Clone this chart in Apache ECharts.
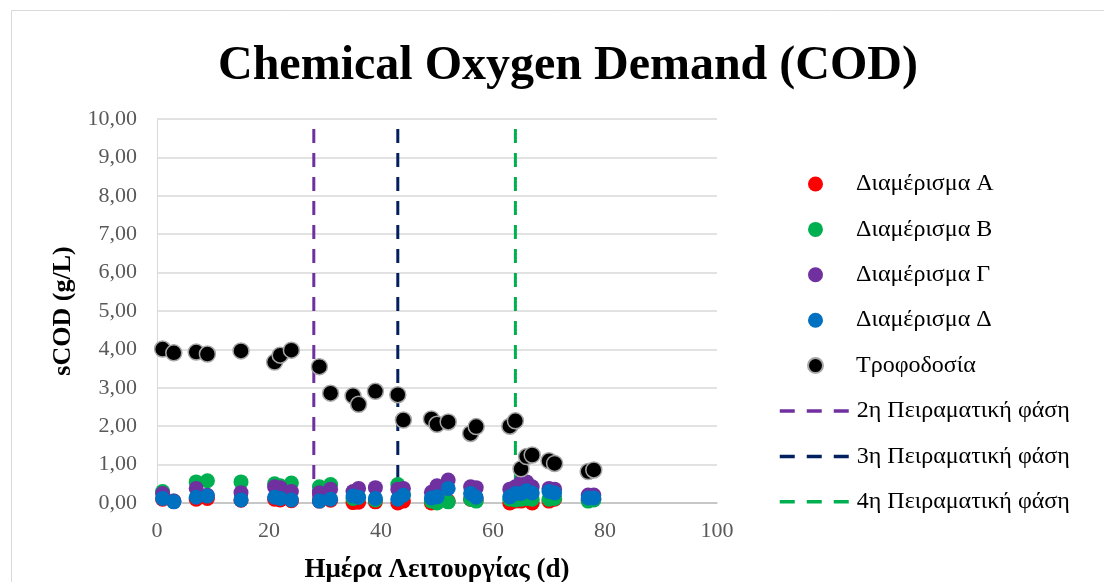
<!DOCTYPE html>
<html>
<head>
<meta charset="utf-8">
<script src="https://cdn.jsdelivr.net/npm/echarts@6/dist/echarts.min.js"></script>
<style>
html,body{margin:0;padding:0;background:#fff;}
#chart{width:1104px;height:582px;}
</style>
</head>
<body>
<div id="chart"></div>
<script>
// ---- data ----
var days = [1,3,7,9,15,21,22,24,29,31,35,36,39,43,44,49,50,52,56,57,63,64,65,66,67,70,71,77,78];
var compA = [0.10,0.04,0.10,0.12,0.07,0.10,0.08,0.06,0.05,0.07,0.01,0.02,0.03,0.00,0.05,0.00,0.02,0.05,0.10,0.08,0.00,0.05,0.05,0.08,0.00,0.05,0.10,0.08,0.10];
var compB = [0.30,0.05,0.55,0.58,0.55,0.50,0.45,0.52,0.42,0.48,0.12,0.15,0.08,0.48,0.22,0.05,0.00,0.03,0.10,0.05,0.10,0.08,0.10,0.12,0.10,0.10,0.12,0.05,0.08];
var compG = [0.25,0.05,0.38,0.20,0.27,0.42,0.40,0.30,0.27,0.36,0.30,0.38,0.40,0.36,0.38,0.28,0.45,0.60,0.42,0.40,0.36,0.42,0.55,0.55,0.42,0.38,0.36,0.21,0.21];
var compD = [0.12,0.03,0.15,0.18,0.08,0.15,0.12,0.08,0.05,0.10,0.18,0.15,0.12,0.10,0.20,0.13,0.16,0.38,0.25,0.15,0.16,0.25,0.25,0.32,0.26,0.30,0.26,0.13,0.13];
var feed  = [4.01,3.91,3.93,3.88,3.96,3.67,3.85,3.98,3.55,2.86,2.79,2.57,2.91,2.82,2.16,2.19,2.05,2.11,1.81,1.99,2.00,2.14,0.89,1.21,1.25,1.10,1.03,0.82,0.86];
var phaseDays = [28, 43, 64];
var phaseRange = [0, 10];
var scatterNames = ['Διαμέρισμα Α','Διαμέρισμα Β','Διαμέρισμα Γ','Διαμέρισμα Δ','Τροφοδοσία'];
var phaseNames = ['2η Πειραματική φάση','3η Πειραματική φάση','4η Πειραματική φάση'];
var scatterColors = ['#FF0000','#00B050','#7030A0','#0070C0','#000000'];
var phaseColors = ['#7030A0','#002060','#00B050'];

function pairs(xs, ys){ return xs.map(function(x,i){ return [x, ys[i]]; }); }

var FONT = 'Liberation Serif';
var chart = echarts.init(document.getElementById('chart'), null, {renderer:'canvas'});

var series = [];
var valueSets = [compA, compB, compG, compD, feed];
scatterNames.forEach(function(n, i){
  var s = {
    name: n, type: 'scatter', z: 3,
    data: pairs(days, valueSets[i]),
    symbolSize: 15,
    itemStyle: { color: scatterColors[i], opacity: 1 }
  };
  if (i === 4) { s.symbolSize = 16; s.itemStyle.borderColor = '#a6a6a6'; s.itemStyle.borderWidth = 1.5; }
  series.push(s);
});
phaseNames.forEach(function(n, i){
  series.push({
    name: n, type: 'line', z: 2,
    data: [[phaseDays[i], phaseRange[0]], [phaseDays[i], phaseRange[1]]],
    symbol: 'none', showSymbol: false,
    lineStyle: { color: phaseColors[i], width: 3, type: [14, 10] },
    itemStyle: { color: phaseColors[i] }
  });
});

chart.setOption({
  animation: false,
  backgroundColor: '#ffffff',
  title: {
    text: 'Chemical Oxygen Demand (COD)',
    left: 218, top: 43, padding: 0,
    textStyle: { fontFamily: FONT, fontSize: 48, fontWeight: 'bold', color: '#000' }
  },
  graphic: [{
    type: 'rect', silent: true, z: -1,
    shape: { x: 11.5, y: 10.5, width: 1200, height: 700 },
    style: { fill: 'none', stroke: '#d9d9d9', lineWidth: 1 }
  }],
  grid: { left: 157, right: 387, top: 119, bottom: 79, containLabel: false, outerBoundsMode: 'none' },
  legend: [{
    data: scatterNames,
    orient: 'vertical', left: 807, top: 172, padding: 0,
    itemWidth: 15, itemHeight: 15, itemGap: 21.4,
    icon: 'circle',
    textStyle: { fontFamily: FONT, fontSize: 24, color: '#000', padding: [0,0,0,28] }
  },{
    data: phaseNames,
    orient: 'vertical', left: 778, top: 399, padding: 0,
    itemWidth: 70, itemHeight: 15, itemGap: 21.4,
    itemStyle: { color: 'rgba(0,0,0,0)', borderWidth: 0, opacity: 0 },
    lineStyle: { width: 3.5, type: [15, 12] },
    textStyle: { fontFamily: FONT, fontSize: 24, color: '#000', padding: [0,0,0,2] }
  }],
  xAxis: {
    type: 'value', min: 0, max: 100, interval: 20,
    name: 'Ημέρα Λειτουργίας (d)', nameLocation: 'middle', nameGap: 54,
    nameTextStyle: { fontFamily: FONT, fontSize: 27, fontWeight: 'bold', color: '#000' },
    axisLine: { show: true, onZero: false, lineStyle: { color: '#bfbfbf', width: 1.5 } },
    axisTick: { show: false },
    splitLine: { show: false },
    axisLabel: { fontFamily: FONT, fontSize: 22, color: '#595959', margin: 17 }
  },
  yAxis: {
    type: 'value', min: 0, max: 10, interval: 1,
    name: 'sCOD (g/L)', nameLocation: 'middle', nameGap: 80, nameRotate: 90,
    nameTextStyle: { fontFamily: FONT, fontSize: 26, fontWeight: 'bold', color: '#000' },
    axisLine: { show: true, lineStyle: { color: '#d9d9d9', width: 1 } },
    axisTick: { show: false },
    splitLine: { show: true, lineStyle: { color: '#d9d9d9', width: 1.5 } },
    axisLabel: { fontFamily: FONT, fontSize: 22, color: '#595959', margin: 20,
      formatter: function(v){ return v.toFixed(2).replace('.', ','); } }
  },
  series: series
});
</script>
</body>
</html>
